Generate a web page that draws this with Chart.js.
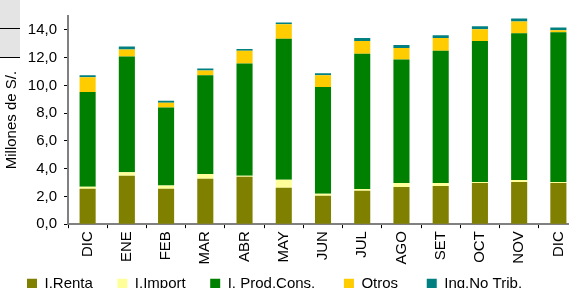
<!DOCTYPE html>
<html>
<head>
<meta charset="utf-8">
<script src="https://cdn.jsdelivr.net/npm/chart.js@4"></script>
<style>
    html, body { margin: 0; padding: 0; background: #fff; overflow: hidden; }
    #wrap { position: relative; width: 584px; height: 317px; }
    #corner { position: absolute; left: 0; top: 0; width: 20px; height: 57px; background: #e4e4e4;
              border-bottom: 1px solid #000; }
    #corner div { position: absolute; left: 0; top: 28px; width: 20px; height: 1px; background: #000; }
</style>
</head>
<body>
<div id="wrap">
    <canvas id="recaudacion-canvas" width="584" height="317"></canvas>
    <div id="corner"><div></div></div>
</div>
<script>
const months = ['DIC', 'ENE', 'FEB', 'MAR', 'ABR', 'MAY', 'JUN', 'JUL', 'AGO', 'SET', 'OCT', 'NOV', 'DIC'];

// millones de S/.
const renta     = [2.56, 3.48, 2.56, 3.27, 3.41, 2.63, 2.05, 2.40, 2.68, 2.75, 2.96, 3.03, 2.96];
const importac  = [0.14, 0.26, 0.22, 0.35, 0.07, 0.57, 0.14, 0.14, 0.28, 0.21, 0.07, 0.15, 0.07];
const prodCons  = [6.83, 8.35, 5.62, 7.11, 8.09, 10.16, 7.69, 9.74, 8.90, 9.53, 10.17, 10.58, 10.80];
const otros     = [1.06, 0.49, 0.35, 0.35, 0.92, 1.04, 0.85, 0.92, 0.84, 0.92, 0.84, 0.85, 0.14];
const noTrib    = [0.14, 0.22, 0.14, 0.14, 0.14, 0.14, 0.14, 0.21, 0.21, 0.21, 0.22, 0.21, 0.21];

const yTicks = [0, 2, 4, 6, 8, 10, 12, 14];

const font = { family: "Arial, 'Liberation Sans', sans-serif", size: 15 };

function barSet(label, data, color) {
    return {
        label: label,
        data: data,
        backgroundColor: color,
        borderWidth: 0,
        barPercentage: 0.41,
        categoryPercentage: 1.0
    };
}

// pull the legend up so it sits right under the month labels
const legendUp = {
    id: 'legendUp',
    afterLayout(chart) {
        const lg = chart.legend;
        const h = lg.bottom - lg.top;
        lg.top = chart.chartArea.bottom + 27.5;
        lg.bottom = lg.top + h;
    }
};

const ctx = document.getElementById('recaudacion-canvas');

new Chart(ctx, {
    type: 'bar',
    data: {
        labels: months,
        datasets: [
            barSet('I.Renta', renta, '#808000'),
            barSet('I.Import', importac, '#FFFF99'),
            barSet('I. Prod.Cons. ', prodCons, '#008000'),
            barSet('Otros ', otros, '#FFCC00'),
            barSet('Ing.No Trib.', noTrib, '#008080')
        ]
    },
    plugins: [legendUp],
    options: {
        responsive: false,
        animation: false,
        layout: {
            padding: { left: 2.5, right: 6, top: 12, bottom: 0 }
        },
        scales: {
            x: {
                stacked: true,
                grid: { drawOnChartArea: false, tickLength: 4, tickColor: '#000' },
                border: { color: '#808080', width: 2 },
                ticks: { color: '#000', font: font, minRotation: 90, maxRotation: 90, padding: 3, autoSkip: false }
            },
            y: {
                stacked: true,
                min: 0,
                max: 15,
                grid: { drawOnChartArea: false, tickLength: 4, tickColor: '#000' },
                border: { color: '#808080', width: 2 },
                ticks: {
                    color: '#000',
                    font: font,
                    padding: 7,
                    callback: function(v) { return v.toFixed(1).replace('.', ','); }
                },
                afterBuildTicks: function(scale) {
                    scale.ticks = yTicks.map(v => ({ value: v }));
                },
                afterFit: function(scale) { scale.width = 65.5; },
                title: {
                    display: true,
                    text: 'Millones de S/.',
                    color: '#000',
                    font: font,
                    padding: 0
                }
            }
        },
        plugins: {
            legend: {
                position: 'bottom',
                align: 'start',
                labels: {
                    boxWidth: 10,
                    boxHeight: 10,
                    padding: 24.5,
                    color: '#000',
                    font: font
                }
            },
            tooltip: { enabled: false }
        }
    }
});
</script>
</body>
</html>
